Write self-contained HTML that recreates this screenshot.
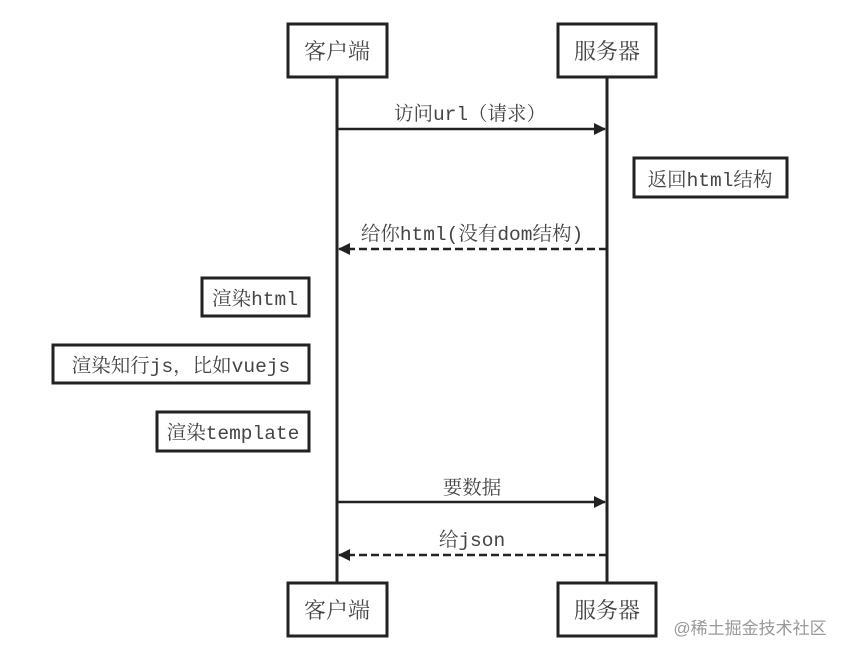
<!DOCTYPE html>
<html><head><meta charset="utf-8"><style>
html,body{margin:0;padding:0;background:#fff;}
svg{display:block}
text{font-family:"Liberation Mono","Noto Serif CJK SC",serif;fill:#444;}
</style></head><body>
<svg width="849" height="656" viewBox="0 0 849 656" xmlns="http://www.w3.org/2000/svg">
<defs>
<marker id="ah" markerWidth="12" markerHeight="12" refX="11" refY="6" orient="auto" markerUnits="userSpaceOnUse">
<path d="M0,0 L12,6 L0,12 z" fill="#222"/></marker>
</defs>
<g stroke="#222" stroke-width="3" fill="#fff">
<line x1="337" y1="77" x2="337" y2="583"/>
<line x1="607" y1="77" x2="607" y2="583"/>
<rect x="288" y="24" width="99" height="53"/>
<rect x="558" y="24" width="98" height="53"/>
<rect x="288" y="583" width="99" height="53"/>
<rect x="558" y="583" width="98" height="53"/>
<rect x="634" y="158" width="153" height="39"/>
<rect x="202" y="278" width="107" height="38"/>
<rect x="53" y="345" width="256" height="38"/>
<rect x="157" y="412" width="152" height="39"/>
</g>
<g stroke="#222" stroke-width="2.5" fill="none">
<line x1="337" y1="129" x2="605" y2="129" marker-end="url(#ah)"/>
<line x1="607" y1="249" x2="339" y2="249" stroke-dasharray="8,4" marker-end="url(#ah)"/>
<line x1="337" y1="502" x2="605" y2="502" marker-end="url(#ah)"/>
<line x1="607" y1="555" x2="339" y2="555" stroke-dasharray="8,4" marker-end="url(#ah)"/>
</g>
<g font-size="22" text-anchor="middle">
<text x="337" y="59">客户端</text>
<text x="607" y="59">服务器</text>
<text x="337" y="618">客户端</text>
<text x="607" y="618">服务器</text>
</g>
<g font-size="19.5" text-anchor="middle">
<text x="470" y="120">访问url（请求）</text>
<text x="472" y="240">给你html(没有dom结构)</text>
<text x="472" y="494">要数据</text>
<text x="472" y="546">给json</text>
<text x="710" y="186">返回html结构</text>
<text x="255" y="305">渲染html</text>
<text x="181" y="372">渲染知行js，比如vuejs</text>
<text x="233" y="439">渲染template</text>
</g>
<text x="750" y="634" font-size="17" text-anchor="middle" style="fill:#999;font-family:'Liberation Sans','Noto Sans CJK SC',sans-serif">@稀土掘金技术社区</text>
</svg>
</body></html>
